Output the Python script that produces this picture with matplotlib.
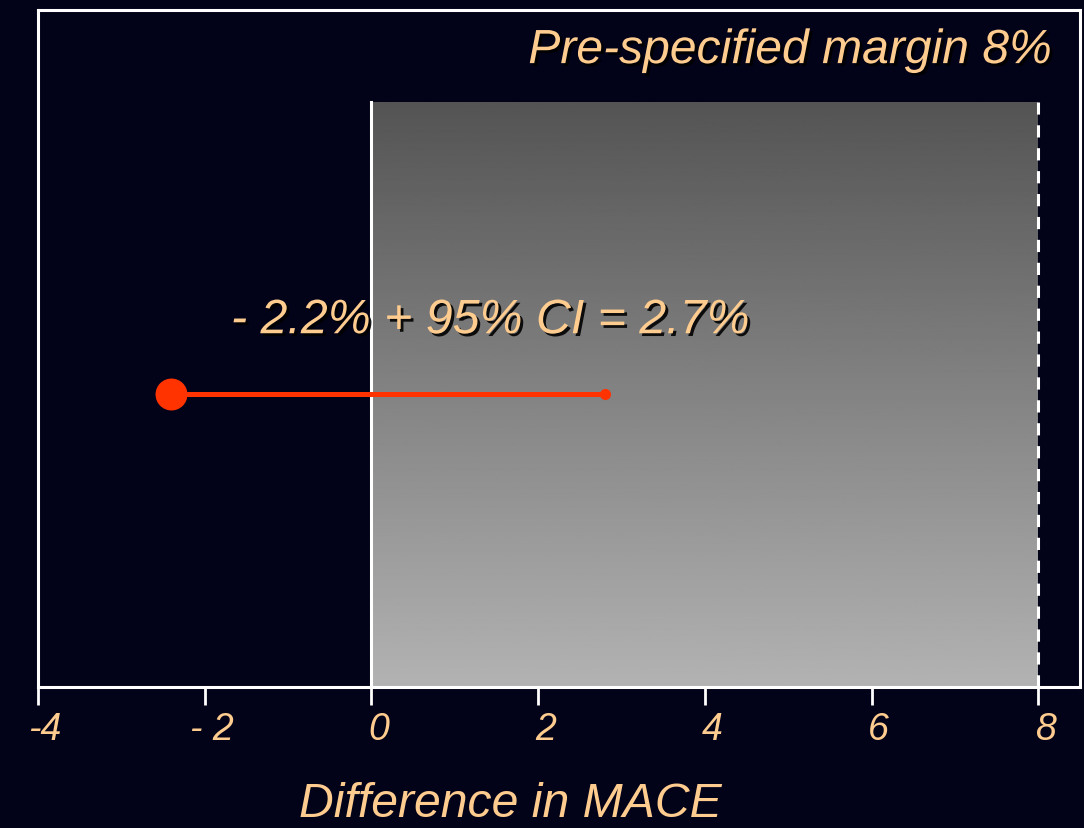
import numpy as np
import matplotlib
matplotlib.use("Agg")
import matplotlib.pyplot as plt
import matplotlib.patheffects as pe
from matplotlib.transforms import ScaledTranslation

# Data
point_estimate = -2.4
upper_ci = 2.8
margin = 8
tick_values = [-4, -2, 0, 2, 4, 6, 8]
tick_labels = ["-4", "- 2", "0", "2", "4", "6", "8"]
title_text = "Pre-specified margin 8%"
annot_text = "- 2.2% + 95% CI = 2.7%"
xlabel_text = "Difference in MACE"

BG = "#020219"
ORANGE = "#FFCC8F"
RED = "#FF3300"

plt.rcParams['font.family'] = ['Liberation Sans', 'DejaVu Sans']

fig = plt.figure(figsize=(10.84, 8.29), dpi=100, facecolor=BG)
ax = fig.add_axes([38/1084, 1-688/829, (1080-38)/1084, (688-11)/829])
ax.set_facecolor(BG)
ax.set_xlim(-4, 8.5)
ax.set_ylim(0, 1)

# gradient region (non-inferiority zone)
grad_top = 0.864
grad = np.linspace(0.70, 0.33, 256).reshape(-1, 1)
ax.imshow(grad, cmap='gray', vmin=0, vmax=1, aspect='auto',
          extent=[0, margin, 0, grad_top], origin='lower', zorder=1)
ax.plot([0, 0], [0, grad_top], color='white', lw=2.2, zorder=2)
ax.plot([margin, margin], [0, grad_top], color='white', lw=2.2,
        dashes=(4, 3.5), zorder=2)

# CI line
y0 = 0.433
ax.plot([point_estimate, upper_ci], [y0, y0], color=RED, lw=3.6,
        solid_capstyle='butt', zorder=3)
ax.plot([point_estimate], [y0], 'o', color=RED, ms=23, mec='none', zorder=4)
ax.plot([upper_ci], [y0], 'o', color=RED, ms=8, mec='none', zorder=4)

shadow = [pe.SimplePatchShadow(offset=(2, -2), shadow_rgbFace='black', alpha=0.9), pe.Normal()]

ax.text(1.43, 0.541, annot_text, color=ORANGE, fontsize=34.8, style='italic',
        ha='center', va='center', path_effects=shadow, zorder=5)
ax.text(8.16, 0.940, title_text, color=ORANGE, fontsize=34.6, style='italic',
        ha='right', va='center', path_effects=shadow, zorder=5)

for s in ax.spines.values():
    s.set_color('white')
    s.set_linewidth(2.2)

ax.set_yticks([])
ax.set_xticks(tick_values)
ax.set_xticklabels(tick_labels)
ax.tick_params(axis='x', direction='out', length=13, width=2, color='white',
               labelcolor=ORANGE, labelsize=27, pad=4.5)
offset = ScaledTranslation(7/100, 0, fig.dpi_scale_trans)
for lab in ax.get_xticklabels():
    lab.set_fontstyle('italic')
    lab.set_transform(lab.get_transform() + offset)

fig.text(510/1084, 1-805/829, xlabel_text, color=ORANGE, fontsize=34.7,
         style='italic', ha='center', va='center')

fig.savefig("out.png", dpi=100, facecolor=BG)
